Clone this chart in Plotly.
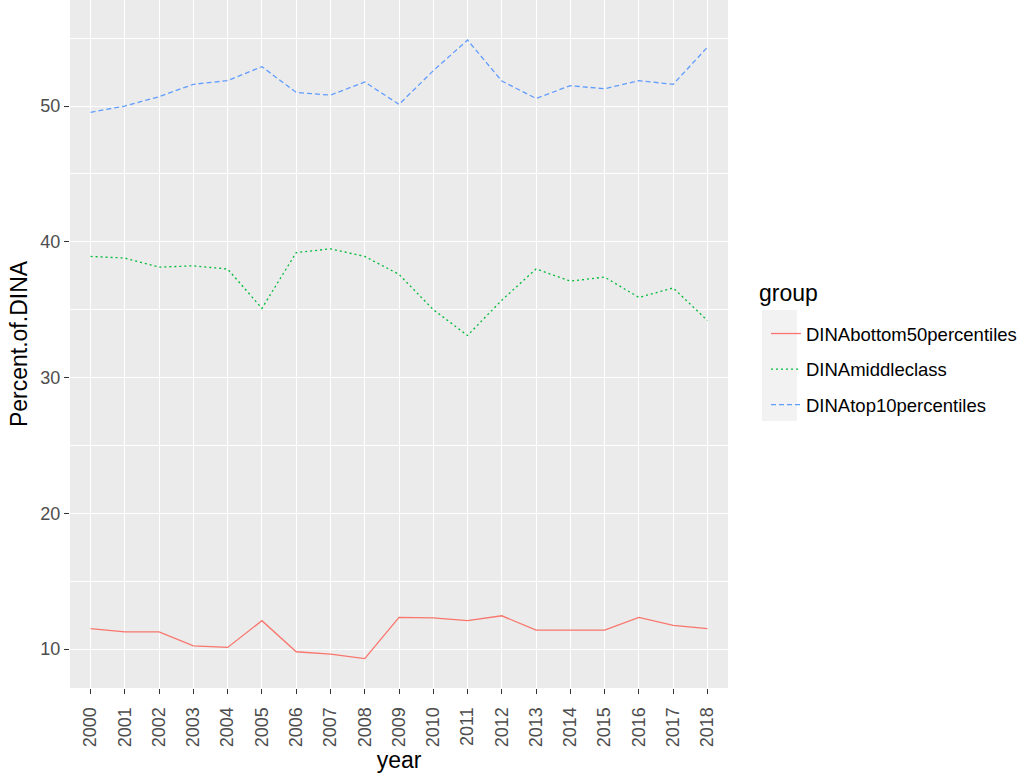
import plotly.graph_objects as go

# Data
years = [str(y) for y in range(2000, 2019)]
bottom50 = [11.5, 11.27, 11.27, 10.24, 10.12, 12.09, 9.8, 9.63, 9.29, 12.33,
            12.3, 12.09, 12.45, 11.4, 11.4, 11.4, 12.33, 11.75, 11.5]
middle = [38.92, 38.8, 38.13, 38.23, 37.99, 35.1, 39.2, 39.48, 38.92, 37.6,
          35.0, 33.1, 35.7, 38.0, 37.1, 37.4, 35.9, 36.6, 34.2]
top10 = [49.54, 50.0, 50.69, 51.6, 51.87, 52.9, 51.0, 50.8, 51.77, 50.12,
         52.6, 54.86, 51.84, 50.56, 51.5, 51.27, 51.87, 51.6, 54.33]

series = [
    ("DINAbottom50percentiles", bottom50, "#F8766D", "solid"),
    ("DINAmiddleclass", middle, "#00BA38", "2px,3px"),
    ("DINAtop10percentiles", top10, "#619CFF", "5px,3px"),
]

font_family = "Liberation Sans, Arial, sans-serif"
PL, PW, PH = 70, 658, 688   # plot area left, width, height in px


def px_x(v):
    return (v - PL) / PW


def px_y(v):
    return (PH - v) / PH


fig = go.Figure()
for name, vals, color, dash in series:
    fig.add_trace(go.Scatter(
        x=years, y=vals, mode="lines", name=name, legendgroup=name,
        line=dict(color=color, width=1.3, dash=dash),
    ))

# grey background behind legend keys (like ggplot)
fig.add_shape(type="rect", xref="paper", yref="paper",
              x0=px_x(762), x1=px_x(797), y0=px_y(421), y1=px_y(310),
              fillcolor="#F2F2F2", line=dict(width=0), layer="below")

# legend title
fig.add_annotation(text="group", xref="paper", yref="paper",
                   x=px_x(757), y=px_y(293), xanchor="left", yanchor="middle",
                   showarrow=False, font=dict(size=23, color="black"))

fig.update_layout(
    width=1033, height=778,
    margin=dict(l=70, r=1033 - 728, t=0, b=90),
    paper_bgcolor="white",
    plot_bgcolor="#EBEBEB",
    font=dict(family=font_family, size=18, color="#4D4D4D"),
    showlegend=True,
    legend=dict(
        x=px_x(766), xanchor="left",
        y=px_y(315), yanchor="top",
        bgcolor="rgba(0,0,0,0)",
        font=dict(size=18.5, color="black"),
        tracegroupgap=8.5,
        itemwidth=30,
    ),
)

fig.update_xaxes(
    type="category",
    categoryorder="array", categoryarray=years,
    range=[-0.6, 18.6],
    showgrid=True, gridcolor="white", gridwidth=1.4,
    zeroline=False,
    ticks="outside", ticklen=5, tickcolor="#333333", tickwidth=1,
    tickangle=-90, ticklabelstandoff=6,
    tickfont=dict(size=18, color="#4D4D4D"),
    title=dict(text="year", font=dict(size=23, color="black"), standoff=4),
    automargin=False,
)

fig.update_yaxes(
    range=[7.13, 57.81],
    tickvals=[10, 20, 30, 40, 50],
    showgrid=True, gridcolor="white", gridwidth=1.4,
    minor=dict(tickvals=[15, 25, 35, 45, 55], showgrid=True,
               gridcolor="white", gridwidth=0.7, ticks=""),
    zeroline=False,
    ticks="outside", ticklen=5, tickcolor="#333333", tickwidth=1,
    tickfont=dict(size=18, color="#4D4D4D"),
    title=dict(text="Percent.of.DINA", font=dict(size=23, color="black"), standoff=6),
    automargin=False,
)

# drop the default page margin so the figure sits at the window corner
fig.write_html("out.html", config={"displayModeBar": False},
               post_script="document.body.style.margin='0';")
